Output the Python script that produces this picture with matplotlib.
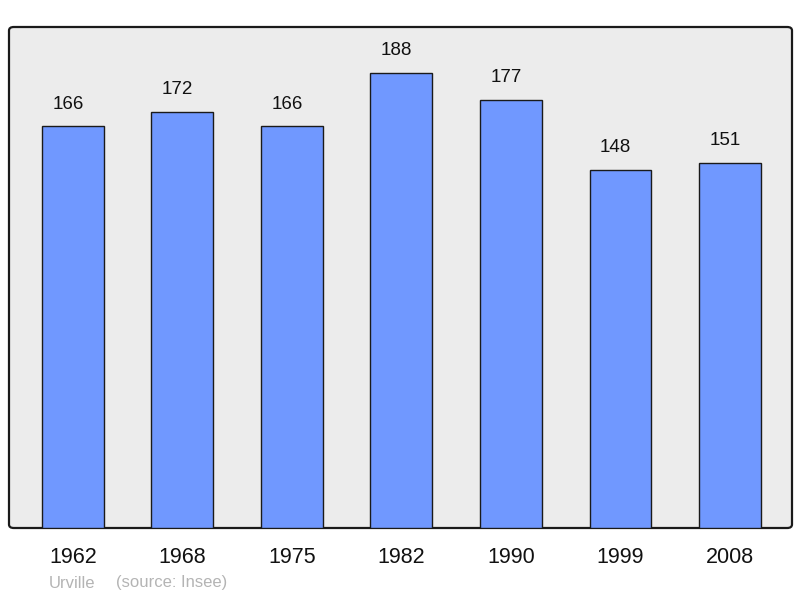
import matplotlib.pyplot as plt
from matplotlib.patches import FancyBboxPatch

years = ["1962", "1968", "1975", "1982", "1990", "1999", "2008"]
population = [166, 172, 166, 188, 177, 148, 151]
commune = "Urville"
source = "(source: Insee)"

plt.rcParams['font.family'] = ['Liberation Sans', 'DejaVu Sans']

fig = plt.figure(figsize=(8, 5.98), dpi=100)
ax = fig.add_axes([9 / 800, 70 / 598, 783 / 800, 501 / 598])
ax.set_facecolor('none')

# rounded frame behind the axes
frame = FancyBboxPatch((9 / 800, 70 / 598), 783 / 800, 501 / 598,
                       boxstyle="round,pad=0,rounding_size=0.006",
                       transform=fig.transFigure, facecolor='#ececec',
                       edgecolor='#1a1a1a', linewidth=1.6, zorder=-5)
fig.patches.append(frame)

x = list(range(len(years)))
bars = ax.bar(x, population, width=0.566, color='#7098ff',
              edgecolor='#1a1a1a', linewidth=1.0, zorder=2)

# value labels sit a little left of the bar centre in the original
for xi, v in zip(x, population):
    ax.annotate(str(v), (xi, v), xytext=(-3.5, 16), textcoords='offset points',
                ha='center', va='center', fontsize=13.5, color='#111111')

ax.set_xlim(-0.584, 6.566)
ax.set_ylim(0, 207)
for s in ax.spines.values():
    s.set_visible(False)
ax.set_yticks([])
ax.set_xticks(x)
ax.set_xticklabels(years, fontsize=15.5, color='#111111')
ax.tick_params(axis='x', length=0, pad=14)

fig.text(49 / 800, 1 - 583 / 598, commune, fontsize=12, color='#b4b4b4',
         va='center', ha='left')
fig.text(116 / 800, 1 - 583 / 598, source, fontsize=12, color='#b4b4b4',
         va='center', ha='left')

fig.savefig('out.png', dpi=100)
